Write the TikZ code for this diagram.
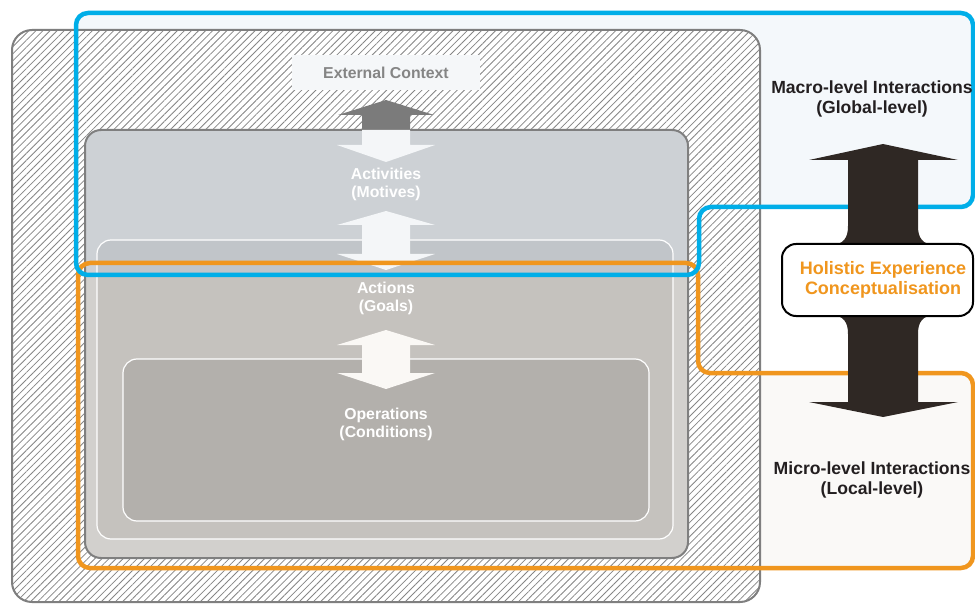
\documentclass[tikz,border=0pt]{standalone}
\usepackage{fontspec}
\setmainfont{Liberation Sans}
\usetikzlibrary{patterns.meta}
\definecolor{bluefill}{HTML}{F4F8FB}
\definecolor{orangefill}{HTML}{FAF9F7}
\definecolor{hatch}{HTML}{858585}
\definecolor{boxgray}{HTML}{7F7F7F}
\definecolor{acthigh}{HTML}{CDD1D5}
\definecolor{actlow}{HTML}{D2D0CD}
\definecolor{actionhigh}{HTML}{C1C5C9}
\definecolor{actionlow}{HTML}{C5C2BE}
\definecolor{opfill}{HTML}{B3B0AC}
\definecolor{extfill}{HTML}{F5F7F9}
\definecolor{exttext}{HTML}{858585}
\definecolor{grayarrow}{HTML}{7B7B7B}
\definecolor{lineblue}{HTML}{00AEE8}
\definecolor{lineorange}{HTML}{F0961E}
\definecolor{darkarrow}{HTML}{2F2824}
\definecolor{textdark}{HTML}{231F20}
\definecolor{whitehigh}{HTML}{F4F6F8}
\definecolor{whitelow}{HTML}{FAF8F5}
\tikzset{
  innertext/.style={text=white, align=center, font=\fontsize{15.8}{18}\selectfont\bfseries},
  sidetext/.style={text=textdark, align=center, font=\fontsize{17.6}{20}\selectfont\bfseries},
  holtextstyle/.style={text=lineorange, align=center, font=\fontsize{18}{20}\selectfont\bfseries},
  outline/.style={line width=4.5pt, rounded corners=12},
}
\begin{document}
\begin{tikzpicture}[x=1pt,y=-1pt]
\useasboundingbox (0,0) rectangle (975,604);
\fill[white] (0,0) rectangle (975,604);

% region fills
\fill[bluefill, rounded corners=12] (76,275) -- (76,13) -- (973,13) -- (973,207) -- (699,207) -- (699,275) -- cycle;
\fill[orangefill, rounded corners=12] (78,568) -- (78,263) -- (698,263) -- (698,373) -- (973,373) -- (973,568) -- cycle;

% hatched outer box
\fill[white, rounded corners=20] (12,30) rectangle (760,602);
\path[pattern={Lines[angle=45,distance=5pt,line width=0.8pt]}, pattern color=hatch, rounded corners=20] (12,30) rectangle (760,602);
\draw[line width=2pt, draw=boxgray, rounded corners=20] (12,30) rectangle (760,602);

% activities box
\fill[actlow, rounded corners=16] (85,130) rectangle (688,558);
\begin{scope}
  \clip (76,13) rectangle (699,275);
  \fill[acthigh, rounded corners=16] (85,130) rectangle (688,558);
\end{scope}
\draw[line width=2pt, draw=boxgray, rounded corners=16] (85,130) rectangle (688,558);

% actions box
\fill[actionlow, rounded corners=14] (97,240) rectangle (673,539);
\begin{scope}
  \clip (76,13) rectangle (699,275);
  \fill[actionhigh, rounded corners=14] (97,240) rectangle (673,539);
\end{scope}
\draw[line width=1.2pt, draw=white, rounded corners=14] (97,240) rectangle (673,539);

% operations box
\draw[line width=1.2pt, draw=white, fill=opfill, rounded corners=14] (123,359) rectangle (649,521);

% external context
\node (ext) [fill=extfill, minimum width=188pt, minimum height=35pt, inner sep=0pt,
  text=exttext, font=\fontsize{15.8}{18}\selectfont\bfseries] at (386,72.5) {External Context};

% inner arrows
\fill[grayarrow] (386,100) -- (434,115) -- (410,115) -- (410,130) -- (362,130) -- (362,115) -- (338,115) -- cycle;
\fill[whitehigh] (362,130) -- (410,130) -- (410,145) -- (435,145) -- (386,162) -- (337,145) -- (362,145) -- cycle;
\fill[whitehigh] (386,211) -- (435,225) -- (410,225) -- (410,254) -- (435,254) -- (386,270) -- (337,254) -- (362,254) -- (362,225) -- (337,225) -- cycle;
\fill[whitelow] (386,330) -- (435,345) -- (410,345) -- (410,373) -- (435,373) -- (386,389) -- (337,373) -- (362,373) -- (362,345) -- (337,345) -- cycle;

% inner labels
\node[innertext] (act) at (386,184) {Activities\\(Motives)};
\node[innertext] (acn) at (386,298) {Actions\\(Goals)};
\node[innertext] (ops) at (386,424) {Operations\\(Conditions)};

% outlines
\draw[outline, lineorange] (78,568) -- (78,263) -- (698,263) -- (698,373) -- (973,373) -- (973,568) -- cycle;
\draw[outline, lineblue] (76,275) -- (76,13) -- (973,13) -- (973,207) -- (699,207) -- (699,275) -- cycle;

% big dark double arrow
\fill[darkarrow] (883,144) -- (958,160) -- (918,160) -- (918,226)
  .. controls (918,238) and (922,244) .. (936,246) -- (936,314)
  .. controls (922,316) and (918,322) .. (918,334) -- (918,402) -- (958,402) -- (883,417) -- (809,402) -- (848,402) -- (848,334)
  .. controls (848,322) and (844,316) .. (830,314) -- (830,246)
  .. controls (844,244) and (848,238) .. (848,226) -- (848,160) -- (809,160) -- cycle;

% holistic box
\node (hol) [draw=black, line width=2pt, rounded corners=14, fill=white, minimum width=191pt, minimum height=72pt] at (877.5,280) {};
\node[holtextstyle] (holtext) at (883,280) {Holistic Experience\\Conceptualisation};

% side labels
\node[sidetext] (macro) at (872,98.5) {Macro-level Interactions\\(Global-level)};
\node[sidetext] (micro) at (872,480) {Micro-level Interactions\\(Local-level)};
\end{tikzpicture}
\end{document}
